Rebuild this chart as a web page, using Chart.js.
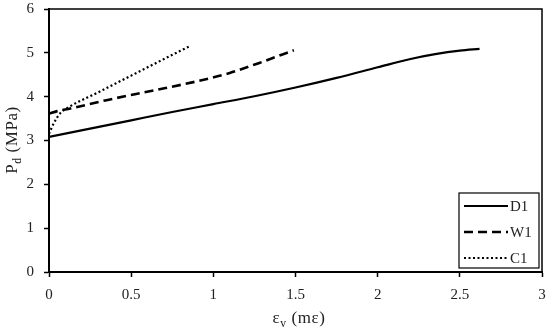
<!DOCTYPE html>
<html>
<head>
<meta charset="utf-8">
<script src="https://cdn.jsdelivr.net/npm/chart.js@4"></script>
<style>
  html, body { margin: 0; padding: 0; background: #fff; }
  #chart { display: block; }
</style>
</head>
<body>
<canvas id="chart" width="550" height="334"></canvas>
<script>
// values
const d1X = [0, 0.25, 0.5, 0.75, 1.0, 1.25, 1.5, 1.75, 2.0, 2.2, 2.35, 2.5, 2.62];
const d1Y = [3.08, 3.27, 3.46, 3.65, 3.83, 4.01, 4.21, 4.43, 4.67, 4.86, 4.97, 5.05, 5.09];

const w1X = [0, 0.05, 0.13, 0.35, 0.62, 0.9, 1.1, 1.28, 1.49];
const w1Y = [3.61, 3.67, 3.73, 3.92, 4.13, 4.35, 4.54, 4.77, 5.06];

const c1X = [0, 0.03, 0.07, 0.11, 0.3, 0.5, 0.7, 0.85];
const c1Y = [3.15, 3.4, 3.63, 3.74, 4.1, 4.48, 4.86, 5.14];

const seriesNames = ["D1", "W1", "C1"];
const xMin = 0, xMax = 3, xStep = 0.5;
const yMin = 0, yMax = 6, yStep = 1;

const FONT = "'Liberation Serif', 'DejaVu Serif', serif";

function toPoints(xs, ys) {
  return xs.map((x, i) => ({ x: x, y: ys[i] }));
}

// draws text pieces, some of them as subscripts, centred on 0
function drawParts(ctx, parts, size) {
  let w = 0;
  parts.forEach(p => {
    ctx.font = (p.sub ? size * 0.68 : size) + "px " + FONT;
    w += ctx.measureText(p.t).width;
  });
  let x = -w / 2;
  parts.forEach(p => {
    ctx.font = (p.sub ? size * 0.68 : size) + "px " + FONT;
    ctx.fillText(p.t, x, p.sub ? size * 0.22 : 0);
    x += ctx.measureText(p.t).width;
  });
}

const decorPlugin = {
  id: "decor",
  beforeDatasetsDraw(chart) {
    const { ctx, chartArea: a } = chart;
    ctx.save();
    ctx.strokeStyle = "#000";
    ctx.lineWidth = 1.5;
    ctx.beginPath();
    ctx.moveTo(a.left, a.top);
    ctx.lineTo(a.right, a.top);
    ctx.lineTo(a.right, a.bottom);
    ctx.stroke();
    ctx.restore();
  },
  afterDraw(chart) {
    const { ctx } = chart;
    ctx.save();
    ctx.fillStyle = "#222";
    ctx.textBaseline = "alphabetic";
    ctx.textAlign = "left";
    ctx.letterSpacing = "0.6px";

    // x title
    ctx.save();
    ctx.translate(299, 323);
    drawParts(ctx, [{ t: "ε" }, { t: "v", sub: true }, { t: " (mε)" }], 17);
    ctx.restore();

    // y title
    ctx.save();
    ctx.translate(17, 140);
    ctx.rotate(-Math.PI / 2);
    drawParts(ctx, [{ t: "P" }, { t: "d", sub: true }, { t: " (MPa)" }], 17);
    ctx.restore();
    ctx.letterSpacing = "0px";

    // legend box
    const bx = 459, by = 193, bw = 80, bh = 75;
    ctx.fillStyle = "#fff";
    ctx.fillRect(bx, by, bw, bh);
    ctx.strokeStyle = "#000";
    ctx.lineWidth = 1.2;
    ctx.strokeRect(bx, by, bw, bh);
    chart.data.datasets.forEach((ds, i) => {
      const ly = 206 + i * 26;
      ctx.save();
      ctx.strokeStyle = ds.borderColor;
      ctx.lineWidth = ds.borderWidth;
      ctx.setLineDash(ds.borderDash || []);
      ctx.beginPath();
      ctx.moveTo(464, ly);
      ctx.lineTo(508, ly);
      ctx.stroke();
      ctx.restore();
      ctx.fillStyle = "#222";
      ctx.font = "15px " + FONT;
      ctx.textBaseline = "middle";
      ctx.fillText(ds.label, 510, ly + 1);
    });
    ctx.restore();
  }
};

const tickFont = { family: FONT, size: 15 };

new Chart(document.getElementById("chart"), {
  type: "scatter",
  data: {
    datasets: [
      { label: seriesNames[0], data: toPoints(d1X, d1Y), borderColor: "#000", borderWidth: 2.2, borderDash: [] },
      { label: seriesNames[1], data: toPoints(w1X, w1Y), borderColor: "#000", borderWidth: 2.6, borderDash: [9, 5] },
      { label: seriesNames[2], data: toPoints(c1X, c1Y), borderColor: "#000", borderWidth: 2.2, borderDash: [2, 2.5] }
    ].map(ds => Object.assign(ds, {
      showLine: true,
      pointRadius: 0,
      pointHoverRadius: 0,
      fill: false,
      cubicInterpolationMode: "monotone"
    }))
  },
  options: {
    responsive: false,
    animation: false,
    layout: { padding: { top: 9, right: 8, left: 0, bottom: 0 } },
    plugins: {
      legend: { display: false },
      tooltip: { enabled: false }
    },
    scales: {
      x: {
        type: "linear",
        min: xMin, max: xMax,
        afterFit: s => { s.height = 62; s.paddingLeft = 0; s.paddingRight = 0; },
        border: { color: "#000", width: 2 },
        grid: { drawOnChartArea: false, color: "#000", tickLength: 5, tickWidth: 1.5 },
        ticks: { stepSize: xStep, padding: 9, color: "#222", font: tickFont, callback: v => String(v) }
      },
      y: {
        type: "linear",
        min: yMin, max: yMax,
        afterFit: s => { s.width = 49; s.paddingTop = 0; s.paddingBottom = 0; },
        border: { color: "#000", width: 2 },
        grid: { drawOnChartArea: false, color: "#000", tickLength: 5, tickWidth: 1.5 },
        ticks: { stepSize: yStep, padding: 10, color: "#222", font: tickFont, callback: v => String(v) }
      }
    }
  },
  plugins: [decorPlugin]
});
</script>
</body>
</html>
